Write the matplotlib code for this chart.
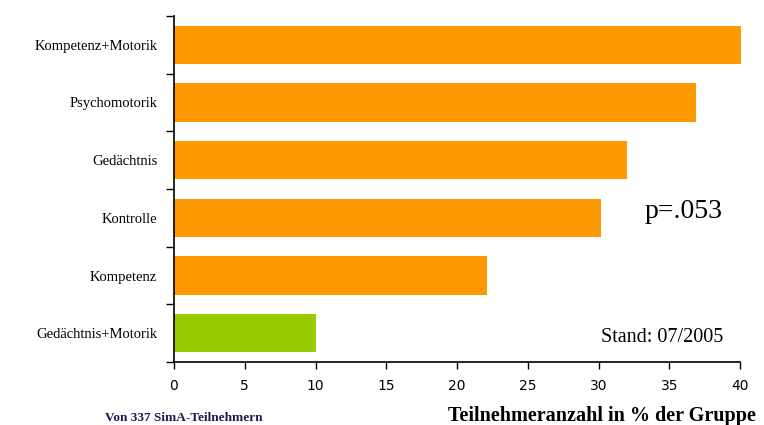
import matplotlib
matplotlib.use("Agg")
import matplotlib.pyplot as plt

categories = ["Kompetenz+Motorik", "Psychomotorik", "Gedächtnis", "Kontrolle", "Kompetenz", "Gedächtnis+Motorik"]
values = [40.1, 36.9, 32.0, 30.2, 22.1, 10.0]
colors = ["#FF9900", "#FF9900", "#FF9900", "#FF9900", "#FF9900", "#99CC00"]
xticks = [0, 5, 10, 15, 20, 25, 30, 35, 40]

fig = plt.figure(figsize=(7.64, 4.25), dpi=100)
ax = fig.add_axes([174/764, 1-362/425, (740-174)/764, (362-16)/425])

n = len(categories)
ypos = list(range(n))[::-1]
bars = ax.barh(ypos, values, height=0.66, color=colors, edgecolor="none")
for b in bars:
    b.set_clip_on(False)

ax.set_xlim(0, 40)
ax.set_ylim(-0.5, n - 0.5)
ax.set_yticks(ypos)
ax.set_yticklabels(categories, family="Liberation Serif", fontsize=10.5)
ax.set_yticks([i - 0.5 for i in range(n + 1)], minor=True)
ax.tick_params(axis="y", which="major", length=0, pad=12)
ax.tick_params(axis="y", which="minor", length=6, direction="out", width=1)
ax.set_xticks(xticks)
ax.set_xticklabels([str(t) for t in xticks], family="DejaVu Sans", fontsize=10)
ax.tick_params(axis="x", length=5, direction="out", width=1, pad=7)

for s in ["top", "right"]:
    ax.spines[s].set_visible(False)
ax.spines["left"].set_linewidth(1.2)
ax.spines["bottom"].set_linewidth(1.2)

fig.text(684/764, 1-212/425, "p=.053", family="Liberation Serif", fontsize=20, ha="center", va="center")
fig.text(662/764, 1-337/425, "Stand: 07/2005", family="Liberation Serif", fontsize=14.5, ha="center", va="center")
fig.text(105/764, 1-418/425, "Von 337 SimA-Teilnehmern", family="Liberation Serif", fontsize=9.5, fontweight="bold", color="#1a1a4a", ha="left", va="center")
fig.text(602/764, 1-416/425, "Teilnehmeranzahl in % der Gruppe", family="Liberation Serif", fontsize=14.5, fontweight="bold", ha="center", va="center")

fig.savefig("out.png", dpi=100)
